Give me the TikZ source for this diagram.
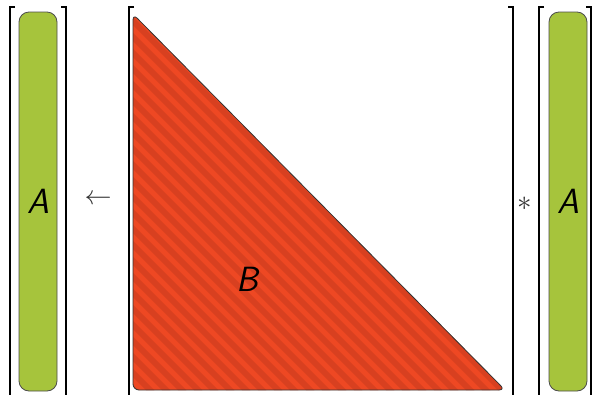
\documentclass[tikz,border=0pt]{standalone}
\usepackage{amsmath,amssymb}
\usepackage{graphicx}
\usepackage{tikz}
\usetikzlibrary{positioning,calc}
\usepackage{xcolor}
\definecolor{vecgreen}{RGB}{166,196, 60}
\definecolor{trired}  {RGB}{238, 72, 35}
\definecolor{tristrp} {RGB}{216, 64, 32}
\tikzset{
  brk/.style    ={line width=1.7pt,black},
  vecbox/.style ={rectangle,draw=black!70,fill=vecgreen,line width=0.8pt,
                  rounded corners=10pt,minimum width=38pt,minimum height=379pt,
                  inner sep=0pt},
  tri/.style    ={draw=black!80,line width=0.8pt,rounded corners=6pt},
  strp/.style   ={draw=tristrp,line width=6pt},
  lbl/.style    ={font=\fontsize{35}{40}\selectfont\sffamily\itshape,inner sep=0pt},
  op/.style     ={text=black!80,inner sep=0pt},
}
\newcommand{\brkl}[1]{\draw[brk] (#1+5,7) -- (#1,7) -- (#1,398) -- (#1+5,398);}
\newcommand{\brkr}[1]{\draw[brk] (#1-5,7) -- (#1,7) -- (#1,398) -- (#1-5,398);}

\begin{document}
\begin{tikzpicture}[x=1pt,y=-1pt]
  \useasboundingbox (0,0) rectangle (597,394);
  % brackets
  \brkl{10} \brkr{66}
  \brkl{129} \brkr{513}
  \brkl{539} \brkr{591}
  % left vector
  \node[vecbox] (lvec) at (38,201.5) {};
  \node[lbl] (la) at (lvec.center) {A};
  % arrow
  \node[op] (arr) at (98,200) {\scalebox{2.7}{$\leftarrow$}};
  % triangle B
  \begin{scope}
    \clip[rounded corners=6pt] (133,14) -- (133,390) -- (505,390) -- cycle;
    \fill[trired] (120,0) rectangle (520,394);
    \foreach \k in {-400,-384,...,520}
      \draw[strp] (\k,0) -- ++(420,420);
  \end{scope}
  \draw[tri] (133,14) -- (133,390) -- (505,390) -- cycle;
  \node[lbl] (lb) at (247,279) {B};
  % star
  \node[op] (star) at (525,204) {\scalebox{2.9}{$\ast$}};
  % right vector
  \node[vecbox] (rvec) at (568,201.5) {};
  \node[lbl] (ra) at (rvec.center) {A};
\end{tikzpicture}
\end{document}
